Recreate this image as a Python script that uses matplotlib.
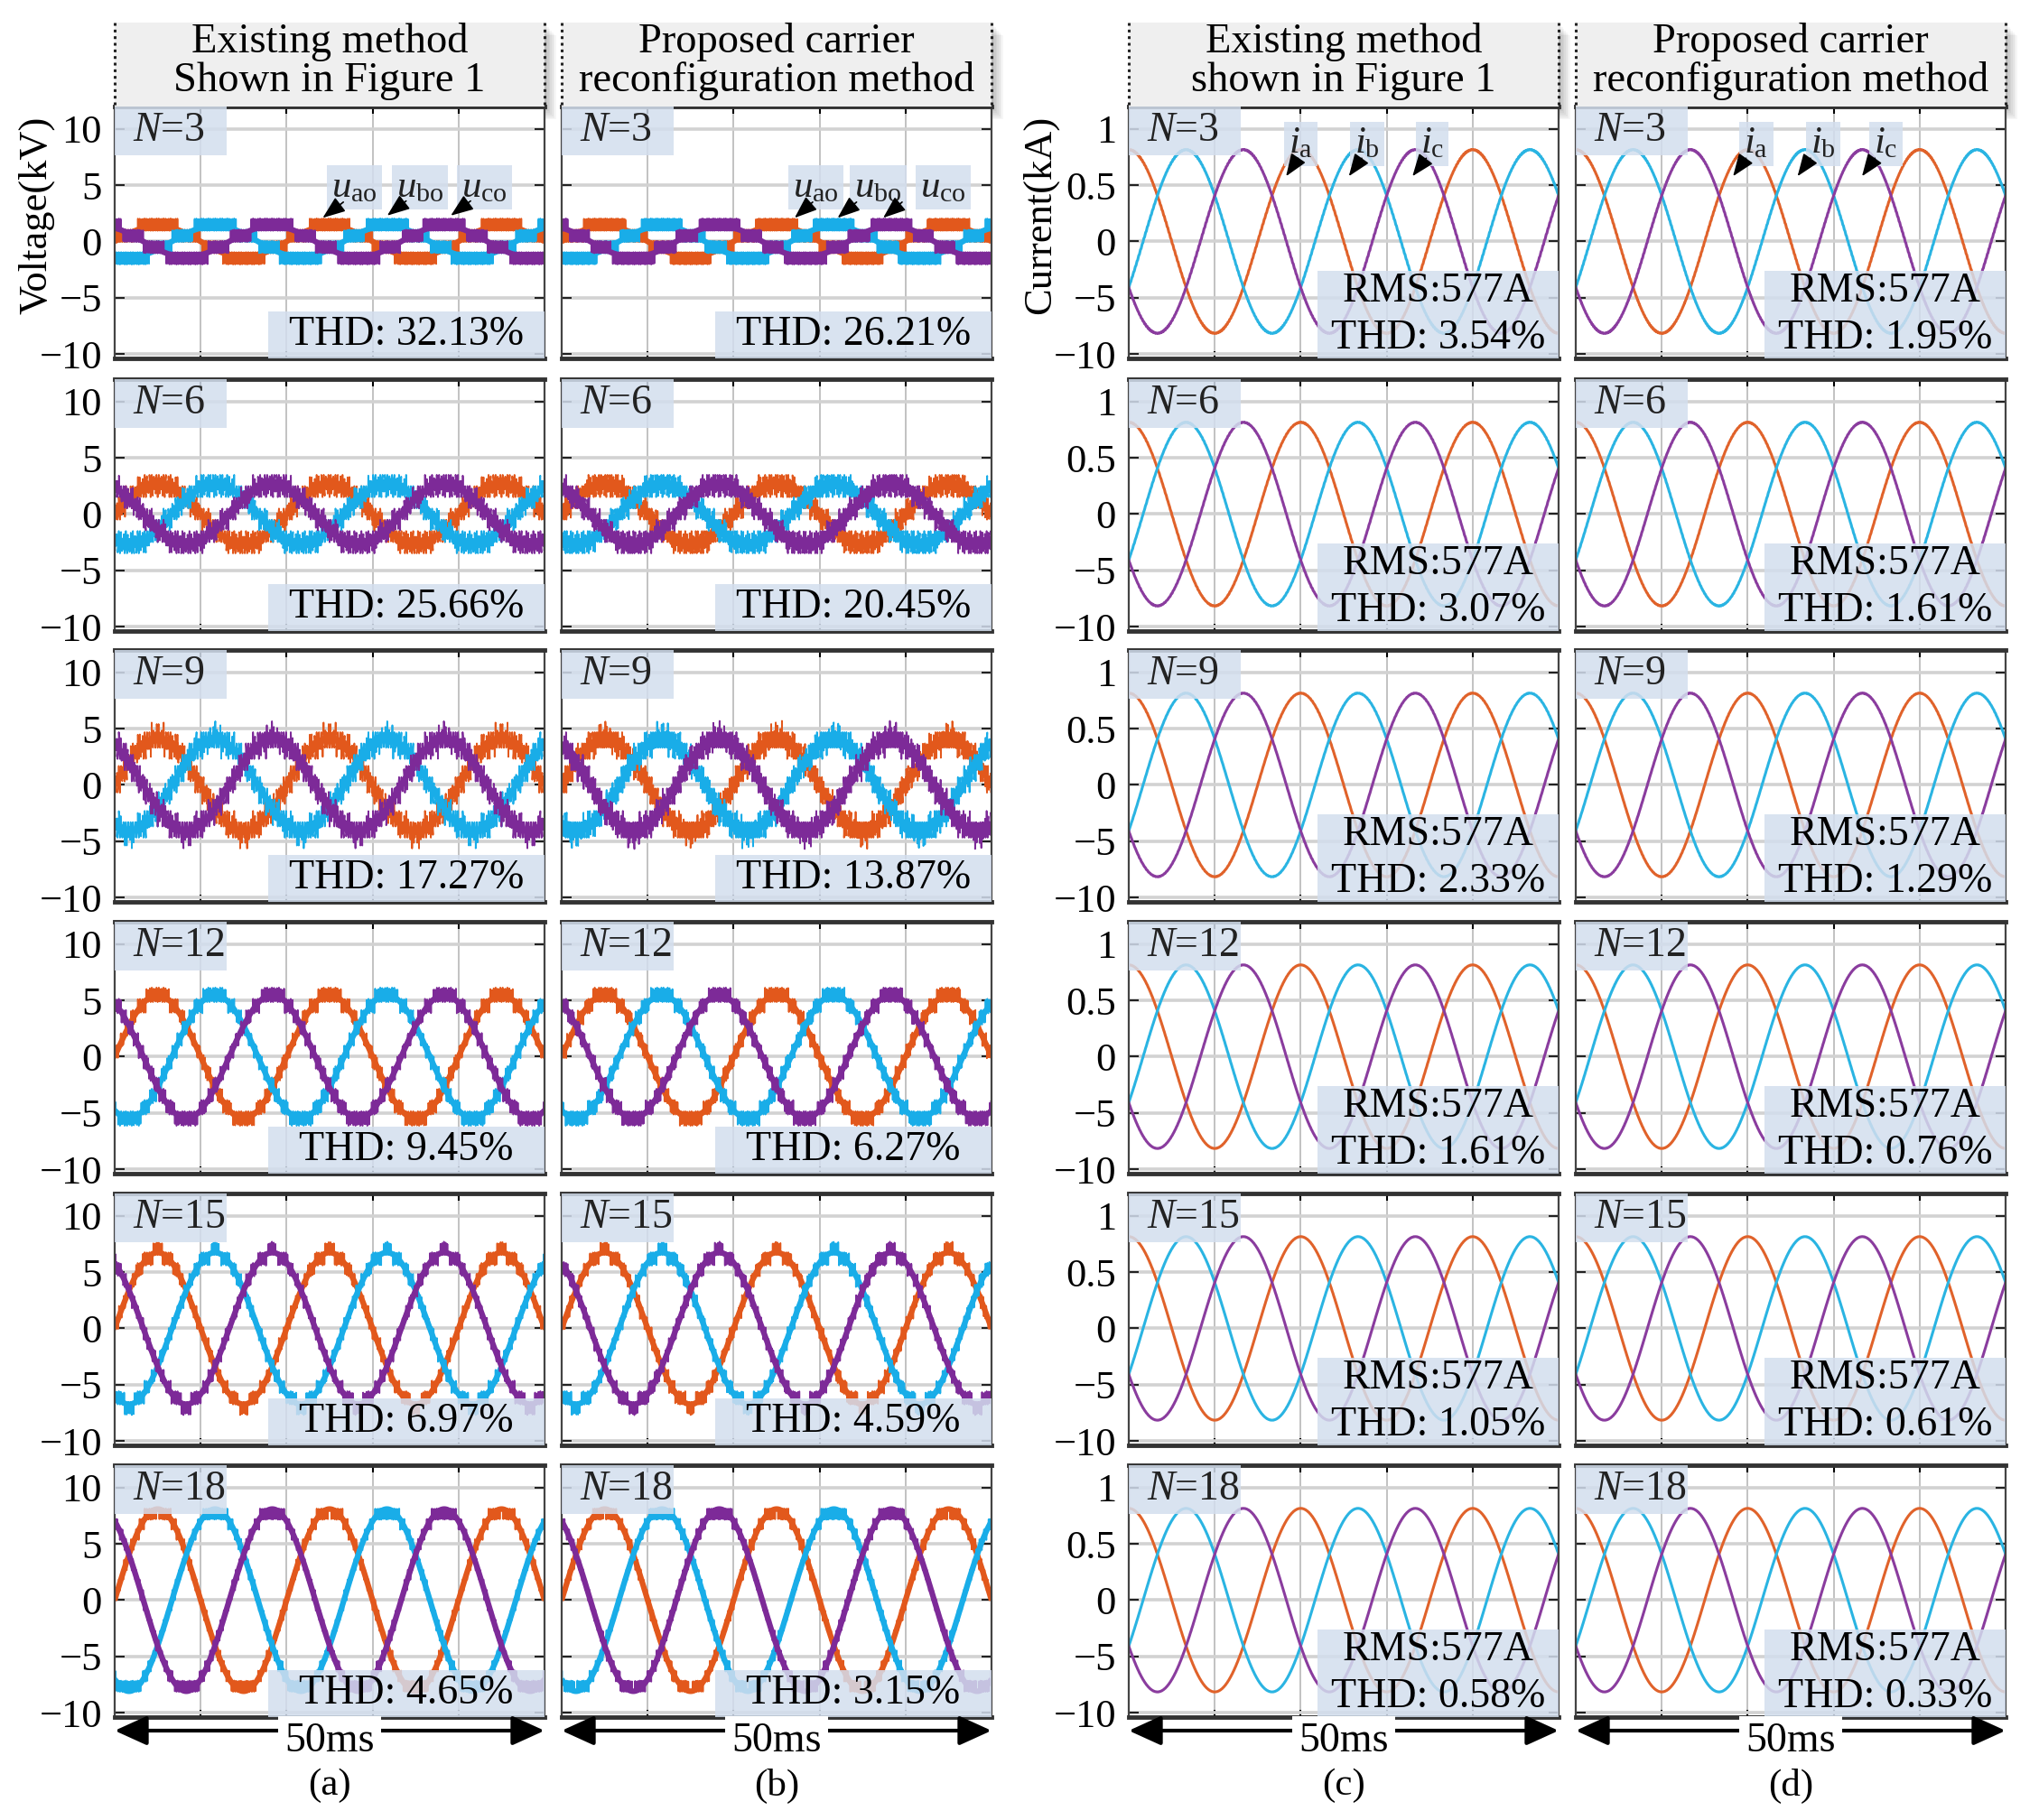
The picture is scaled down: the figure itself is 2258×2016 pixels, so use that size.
import numpy as np
import matplotlib
matplotlib.use('Agg')
import matplotlib.pyplot as plt
from matplotlib.patches import Rectangle, FancyArrowPatch
from matplotlib.lines import Line2D

# ---------------- data ----------------
N_values = [3, 6, 9, 12, 15, 18]
v_amp_kv = [1.4, 2.7, 4.1, 5.5, 6.75, 8.1]          # fundamental phase-voltage amplitude
level_step_kv = [1.0, 1.0, 1.0, 1.0, 0.95, 0.9]      # level step of the staircase
ripple_kv = [0.05, 0.5, 0.7, 0.15, 0.12, 0.05]       # extra switching-ripple half height
thd_existing_v = ['32.13', '25.66', '17.27', '9.45', '6.97', '4.65']
thd_proposed_v = ['26.21', '20.45', '13.87', '6.27', '4.59', '3.15']
thd_existing_i = ['3.54', '3.07', '2.33', '1.61', '1.05', '0.58']
thd_proposed_i = ['1.95', '1.61', '1.29', '0.76', '0.61', '0.33']
i_rms_a = 577
f_grid_hz = 50
window_ms = 50
phase_deg_v = [0, -120, 120]      # u_ao, u_bo, u_co (sine reference)
phase_deg_i = [0, -120, 120]      # i_a, i_b, i_c (cosine reference)
carrier_hz = [5000, 5600]         # existing, proposed
col_titles = ['Existing method\nShown in Figure 1',
              'Proposed carrier\nreconfiguration method',
              'Existing method\nshown in Figure 1',
              'Proposed carrier\nreconfiguration method']
panel_letters = ['(a)', '(b)', '(c)', '(d)']
v_ticks = [10, 5, 0, -5, -10]
v_tick_labels = ['10', '5', '0', '\u22125', '\u221210']
i_ticks = [1, 0.5, 0, -0.5, -1]
i_tick_labels = ['1', '0.5', '0', '\u22125', '\u221210']
v_names = [r'$u_{\mathrm{ao}}$', r'$u_{\mathrm{bo}}$', r'$u_{\mathrm{co}}$']
i_names = [r'$i_{\mathrm{a}}$', r'$i_{\mathrm{b}}$', r'$i_{\mathrm{c}}$']

# ---------------- style ----------------
plt.rcParams['font.family'] = ['Liberation Serif', 'DejaVu Serif']
plt.rcParams['mathtext.fontset'] = 'custom'
plt.rcParams['mathtext.rm'] = 'Liberation Serif'
plt.rcParams['mathtext.it'] = 'Liberation Serif:italic'
plt.rcParams['mathtext.bf'] = 'Liberation Serif:bold'
plt.rcParams['path.simplify'] = False

colors_v = ['#E2581C', '#19ADE8', '#7D2A98']
colors_i = ['#E0622A', '#2AB4E2', '#8A3C9E']
box_col = '#D3DEEE'

W, H = 2258, 2016
fig = plt.figure(figsize=(W / 100, H / 100), dpi=100)
fig.patch.set_facecolor('white')

col_x = [127, 622, 1250, 1745]
col_w = 476
row_top = [118, 420, 720, 1021, 1322, 1623]
row_h = 279


def fx(x):
    return x / W


def fy(y):
    return 1 - y / H


# ---------------- waveforms ----------------
t = np.linspace(0, window_ms / 1000, 40001)
t_ms = t * 1000
dt = t[1] - t[0]
w = 2 * np.pi * f_grid_hz


def carrier(fc, ph):
    return 2 * np.abs(((t * fc + ph) % 1.0) - 0.5)


def fundamental(amp, ph_deg):
    return amp * np.sin(w * t + np.deg2rad(ph_deg))


def mmc_voltage(amp, step, rip, ph_deg, fc, cph):
    ref = fundamental(amp, ph_deg) / step
    lo = np.floor(ref)
    frac = ref - lo
    stair = step * (lo + (frac > carrier(fc, cph)))
    return stair + rip * (2 * carrier(fc * 0.73, cph + 0.25) - 1)


def phase_current(amp_v, step, rip, ph_v, ph_i, fc, cph, n):
    v = mmc_voltage(amp_v, step, rip, ph_v, fc, cph)
    err = v - fundamental(amp_v, ph_v)
    L = 0.0016 * n
    r = np.cumsum(err) * dt / L
    k = int(round(1 / fc / dt))
    r = r - np.convolve(r, np.ones(k) / k, mode='same')
    amp_i = i_rms_a * np.sqrt(2) / 1000
    return amp_i * np.cos(w * t + np.deg2rad(ph_i)) + r


def style_axes(ax, is_voltage, show_labels):
    ax.set_xlim(0, window_ms)
    if is_voltage:
        ax.set_ylim(-10.4, 12)
        ax.set_yticks(v_ticks)
        ax.set_yticklabels(v_tick_labels if show_labels else [])
    else:
        ax.set_ylim(-1.04, 1.2)
        ax.set_yticks(i_ticks)
        ax.set_yticklabels(i_tick_labels if show_labels else [])
    ax.set_xticks([10, 20, 30, 40])
    ax.set_xticklabels([])
    ax.yaxis.grid(True, color='#d2d2d2', lw=2.6, zorder=0)
    ax.xaxis.grid(True, color='#b8b8b8', lw=1.2, zorder=0)
    ax.set_axisbelow(True)
    ax.tick_params(axis='y', direction='in', left=True, right=True, length=8, width=1.5,
                   labelsize=32, pad=10, colors='#222222', labelcolor='black')
    ax.tick_params(axis='x', direction='in', top=True, bottom=True, length=6, width=1.5)
    for s in ['top', 'bottom']:
        ax.spines[s].set_linewidth(3.5)
        ax.spines[s].set_color('#333333')
    for s in ['left', 'right']:
        ax.spines[s].set_linewidth(1.6)
        ax.spines[s].set_color('#444444')


def add_box(ax, x0, y0, wpx, hpx, alpha=0.85):
    ax.add_patch(Rectangle((x0, y0), wpx / col_w, hpx / row_h, transform=ax.transAxes,
                           fc=box_col, ec='none', alpha=alpha, zorder=5))


axes = {}
for r, n in enumerate(N_values):
    for c in range(4):
        ax = fig.add_axes([fx(col_x[c]), fy(row_top[r] + row_h), col_w / W, row_h / H])
        axes[(r, c)] = ax
        is_v = c < 2
        style_axes(ax, is_v, c in (0, 2))
        fc = carrier_hz[c % 2]
        for p in range(3):
            cph = 0.0 if c % 2 == 0 else p / 3.0
            if is_v:
                ax.plot(t_ms, fundamental(v_amp_kv[r], phase_deg_v[p]), color=colors_v[p],
                        lw=4.5, zorder=2 + p * 0.1, solid_capstyle='butt')
                y = mmc_voltage(v_amp_kv[r], level_step_kv[r], ripple_kv[r],
                                phase_deg_v[p], fc, cph)
                ax.plot(t_ms, y, color=colors_v[p], lw=1.3, zorder=2 + p * 0.1)
            else:
                y = phase_current(v_amp_kv[r], level_step_kv[r], ripple_kv[r], phase_deg_v[p],
                                  phase_deg_i[p], fc, cph, n)
                ax.plot(t_ms, y, color=colors_i[p], lw=2.2, zorder=2 + p * 0.1)
        # N label box
        add_box(ax, 0, 1 - 54 / row_h, 124, 54)
        ax.text(20 / col_w, 1 - 27 / row_h, r'$N$=%d' % n, transform=ax.transAxes,
                ha='left', va='center', fontsize=33, color='#222222', zorder=6)
        # THD / RMS box
        if is_v:
            thd = thd_existing_v[r] if c == 0 else thd_proposed_v[r]
            bw, bh = 306, 52
            add_box(ax, 1 - bw / col_w, 0, bw, bh)
            ax.text(1 - bw / 2 / col_w, bh / 2 / row_h, 'THD: %s%%' % thd,
                    transform=ax.transAxes, ha='center', va='center', fontsize=33,
                    color='black', zorder=6)
        else:
            thd = thd_existing_i[r] if c == 2 else thd_proposed_i[r]
            bw, bh = 267, 97
            add_box(ax, 1 - bw / col_w, 0, bw, bh)
            ax.text(1 - bw / 2 / col_w, 74 / row_h, 'RMS:%dA' % i_rms_a,
                    transform=ax.transAxes, ha='center', va='center', fontsize=33,
                    color='black', zorder=6)
            ax.text(1 - bw / 2 / col_w, 22 / row_h, 'THD: %s%%' % thd,
                    transform=ax.transAxes, ha='center', va='center', fontsize=33,
                    color='black', zorder=6)

# ---------------- phase annotations (first row) ----------------
# (label_t, label_y, tail_t, tail_y, tip_t, tip_y)
v_ann = {
    0: [(27.9, 4.8, 26.6, 3.5, 24.2, 2.1), (35.5, 4.8, 33.9, 3.6, 31.7, 2.3), (43.0, 4.8, 41.4, 3.6, 39.1, 2.3)],
    1: [(29.6, 4.8, 29.2, 3.5, 27.1, 2.1), (36.8, 4.8, 34.3, 3.5, 32.1, 2.1), (44.4, 4.8, 39.6, 3.5, 37.4, 2.1)],
}
i_ann = {
    2: [(20.0, 0.87, 19.7, 0.74, 18.3, 0.58), (27.7, 0.87, 27.1, 0.74, 25.6, 0.58), (35.3, 0.87, 34.6, 0.74, 33.0, 0.58)],
    3: [(21.0, 0.87, 19.8, 0.74, 18.3, 0.58), (28.8, 0.87, 27.3, 0.74, 25.8, 0.58), (36.1, 0.87, 34.8, 0.74, 33.3, 0.58)],
}
arrow_style = '-|>,head_length=1.1,head_width=0.42'
for c, anns in v_ann.items():
    ax = axes[(0, c)]
    for k, (lt, ly, at, ay, tt, ty) in enumerate(anns):
        ax.text(lt, ly, v_names[k], ha='center', va='center', fontsize=31, color='#222222',
                zorder=7, bbox=dict(boxstyle='square,pad=0.12', fc=box_col, ec='none', alpha=0.85))
        ax.add_patch(FancyArrowPatch((at, ay), (tt, ty), arrowstyle=arrow_style,
                                     mutation_scale=14, color='black', lw=1.2, zorder=8,
                                     shrinkA=0, shrinkB=0))
for c, anns in i_ann.items():
    ax = axes[(0, c)]
    for k, (lt, ly, at, ay, tt, ty) in enumerate(anns):
        ax.text(lt, ly, i_names[k], ha='center', va='center', fontsize=31, color='#222222',
                zorder=7, bbox=dict(boxstyle='square,pad=0.12', fc=box_col, ec='none', alpha=0.85))
        ax.add_patch(FancyArrowPatch((at, ay), (tt, ty), arrowstyle=arrow_style,
                                     mutation_scale=14, color='black', lw=1.2, zorder=8,
                                     shrinkA=0, shrinkB=0))

# ---------------- headers ----------------
hy0, hy1 = 25, 118
for c in range(4):
    x0 = col_x[c]
    for k in range(1, 9):
        fig.add_artist(Rectangle((fx(x0 + k * 1.6), fy(hy1 + k * 1.8)), (col_w) / W, (hy1 - hy0) / H,
                                 transform=fig.transFigure, fc='black', ec='none', alpha=0.035,
                                 zorder=-2))
    fig.add_artist(Rectangle((fx(x0), fy(hy1)), col_w / W, (hy1 - hy0) / H,
                             transform=fig.transFigure, fc='#EFEFEF', ec='none', zorder=1))
    for xx in (x0, x0 + col_w):
        fig.add_artist(Line2D([fx(xx), fx(xx)], [fy(hy0), fy(hy1)], transform=fig.transFigure,
                              color='#222222', lw=2.2, ls=(0, (1, 1.4)), zorder=2))
    fig.text(fx(x0 + col_w / 2), fy(68), col_titles[c], ha='center', va='center',
             fontsize=33.5, linespacing=1.0, zorder=3)

# ---------------- axis labels ----------------
fig.text(fx(40), fy(238), 'Voltage(kV)', rotation=90, ha='center', va='center', fontsize=32)
fig.text(fx(1152), fy(238), 'Current(kA)', rotation=90, ha='center', va='center', fontsize=32)

# ---------------- time-span arrows and letters ----------------
for c in range(4):
    x0 = col_x[c]
    fig.add_artist(FancyArrowPatch((fx(x0), fy(1917)), (fx(x0 + col_w), fy(1917)),
                                   transform=fig.transFigure,
                                   arrowstyle='<|-|>,head_length=1.1,head_width=0.5',
                                   mutation_scale=20, color='black', lw=3.0, zorder=3,
                                   shrinkA=0, shrinkB=0))
    fig.text(fx(x0 + col_w / 2), fy(1929), '%dms' % window_ms, ha='center', va='center',
             fontsize=33, zorder=4,
             bbox=dict(boxstyle='square,pad=0.15', fc='white', ec='none'))
    fig.text(fx(x0 + col_w / 2), fy(1978), panel_letters[c], ha='center', va='center',
             fontsize=31, zorder=4)

fig.savefig('out.png', dpi=100, facecolor='white')
